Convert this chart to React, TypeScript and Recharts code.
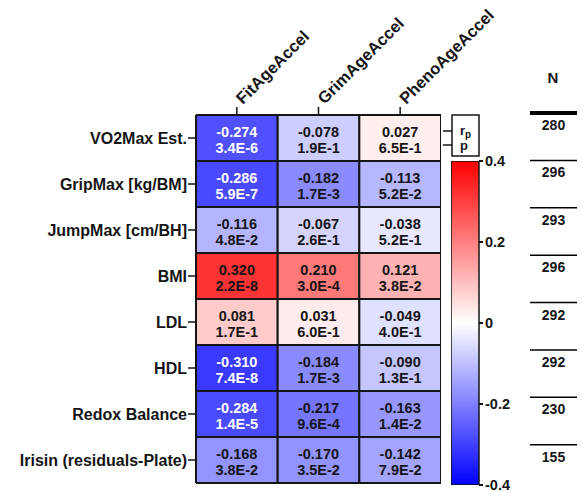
import React from 'react';
import { BarChart, Bar, XAxis, YAxis, ComposedChart } from 'recharts';

const rowNames = ['VO2Max Est.', 'GripMax [kg/BM]', 'JumpMax [cm/BH]', 'BMI', 'LDL', 'HDL', 'Redox Balance', 'Irisin (residuals-Plate)'];
const columnNames = ['FitAgeAccel', 'GrimAgeAccel', 'PhenoAgeAccel'];
const fitR = [-0.274, -0.286, -0.116, 0.32, 0.081, -0.31, -0.284, -0.168];
const fitP = ['3.4E-6', '5.9E-7', '4.8E-2', '2.2E-8', '1.7E-1', '7.4E-8', '1.4E-5', '3.8E-2'];
const grimR = [-0.078, -0.182, -0.067, 0.21, 0.031, -0.184, -0.217, -0.17];
const grimP = ['1.9E-1', '1.7E-3', '2.6E-1', '3.0E-4', '6.0E-1', '1.7E-3', '9.6E-4', '3.5E-2'];
const phenoR = [0.027, -0.113, -0.038, 0.121, -0.049, -0.09, -0.163, -0.142];
const phenoP = ['6.5E-1', '5.2E-2', '5.2E-1', '3.8E-2', '4.0E-1', '1.3E-1', '1.4E-2', '7.9E-2'];
const nValues = [280, 296, 293, 296, 292, 292, 230, 155];
const colorbarTicks = [-0.4, -0.2, 0, 0.2, 0.4];
const colorbarRange = [-0.4, 0.4];
const columnTicks = [0.5, 1.5, 2.5];

const FONT = '"Liberation Sans", Arial, sans-serif';
const DARK = '#151515';

const table = rowNames.map((name, i) => ({
  name,
  c0: 1, c1: 1, c2: 1,
  r0: fitR[i], r1: grimR[i], r2: phenoR[i],
  p0: fitP[i], p1: grimP[i], p2: phenoP[i],
}));

const nTable = nValues.map((n, i) => ({ key: String(i), n, slot: 1 }));
const cbarTable = [{ name: 'scale', range: colorbarRange }];

function colorFor(r: number) {
  const t = Math.max(-1, Math.min(1, r / 0.4));
  if (t >= 0) {
    const v = Math.round(255 * (1 - t));
    return `rgb(255,${v},${v})`;
  }
  const v = Math.round(255 * (1 + t));
  return `rgb(${v},${v},255)`;
}

const makeCellShape = (j: number) => (props: any) => {
  const { x, y, width, height, payload } = props;
  const r = payload[`r${j}`] as number;
  const p = payload[`p${j}`] as string;
  const txt = r < -0.25 ? '#ffffff' : DARK;
  const cx = x + width / 2;
  return (
    <g>
      <rect x={x} y={y} width={width} height={height} fill={colorFor(r)} stroke={DARK} strokeWidth={2} />
      <text x={cx} y={y + 22} textAnchor="middle" fontFamily={FONT} fontWeight="bold" fontSize={14.5} fill={txt}>
        {r.toFixed(3)}
      </text>
      <text x={cx} y={y + 38} textAnchor="middle" fontFamily={FONT} fontWeight="bold" fontSize={14.5} fill={txt}>
        {p}
      </text>
    </g>
  );
};

const ColumnTick = (props: any) => {
  const { x, y, payload } = props;
  const idx = Math.floor(payload.value);
  const tx = x + 6;
  const ty = y;
  return (
    <text x={tx} y={ty} textAnchor="start" fontFamily={FONT} fontWeight="bold" fontSize={16.5} fill={DARK}
      transform={`rotate(-45, ${tx}, ${ty})`}>
      {columnNames[idx]}
    </text>
  );
};

const NShape = (props: any) => {
  const { x, y, width, payload, index } = props;
  return (
    <g>
      <line x1={x} x2={x + width} y1={y} y2={y} stroke="#000" strokeWidth={index === 0 ? 4 : 1.5} />
      <text x={x + width / 2} y={y + 17} textAnchor="middle" fontFamily={FONT} fontWeight="bold" fontSize={14} fill={DARK}>
        {payload.n}
      </text>
    </g>
  );
};

const CbarShape = (props: any) => {
  const { x, y, width, height } = props;
  return <rect x={x} y={y} width={width} height={height} fill="url(#cbarGrad)" stroke={DARK} strokeWidth={1.5} />;
};

export default function App() {
  return (
    <div style={{ position: 'absolute', left: 0, top: 0, width: 582, height: 491, background: '#fff', fontFamily: FONT }}>
      <svg width={0} height={0} style={{ position: 'absolute' }}>
        <defs>
          <linearGradient id="cbarGrad" x1="0" y1="0" x2="0" y2="1">
            <stop offset="0%" stopColor="#ff0000" />
            <stop offset="50%" stopColor="#ffffff" />
            <stop offset="100%" stopColor="#0000ff" />
          </linearGradient>
        </defs>
      </svg>

      <div style={{ position: 'absolute', left: 0, top: 0 }}>
        <BarChart width={582} height={491} data={table} layout="vertical"
          margin={{ top: 0, right: 141, bottom: 8, left: 0 }} barCategoryGap={0} barGap={0}>
          <XAxis type="number" orientation="top" domain={[0, 3]} ticks={columnTicks} height={115}
            tickSize={8} tickMargin={2} interval={0} tick={<ColumnTick />}
            axisLine={{ stroke: DARK, strokeWidth: 2 }} tickLine={{ stroke: DARK, strokeWidth: 1.5 }} allowDataOverflow />
          <YAxis type="category" dataKey="name" width={196} tickSize={8} tickMargin={1} interval={0}
            axisLine={{ stroke: DARK, strokeWidth: 2 }} tickLine={{ stroke: DARK, strokeWidth: 1.5 }}
            tick={{ fontFamily: FONT, fontWeight: 'bold', fontSize: 16, fill: DARK }} />
          {columnNames.map((c, j) => (
            <Bar key={c} dataKey={`c${j}`} stackId="grid" isAnimationActive={false} shape={makeCellShape(j)} />
          ))}
        </BarChart>
      </div>

      <div style={{ position: 'absolute', left: 451, top: 151 }}>
        <ComposedChart width={80} height={344} data={cbarTable} margin={{ top: 10, right: 0, bottom: 10, left: 0 }}
          barCategoryGap={0}>
          <XAxis type="category" dataKey="name" hide />
          <YAxis type="number" orientation="right" domain={[-0.4, 0.4]} ticks={colorbarTicks} width={52}
            tickSize={4} tickMargin={2} axisLine={false} interval={0} allowDataOverflow
            tickFormatter={(v: number) => (v === 0 ? '0' : String(v))}
            tickLine={{ stroke: DARK, strokeWidth: 2 }}
            tick={{ fontFamily: FONT, fontWeight: 'bold', fontSize: 14.5, fill: DARK, textAnchor: 'start' }} />
          <Bar dataKey="range" isAnimationActive={false} shape={<CbarShape />} />
        </ComposedChart>
      </div>

      <div style={{ position: 'absolute', left: 530, top: 109 }}>
        <ComposedChart width={47} height={383} data={nTable} layout="vertical"
          margin={{ top: 4, right: 0, bottom: 0, left: 0 }} barCategoryGap={0}>
          <XAxis type="number" domain={[0, 1]} hide />
          <YAxis type="category" dataKey="key" hide />
          <Bar dataKey="slot" isAnimationActive={false} shape={<NShape />} />
        </ComposedChart>
      </div>

      <svg width={582} height={491} style={{ position: 'absolute', left: 0, top: 0, pointerEvents: 'none' }}>
        <text x={553} y={83} textAnchor="middle" fontFamily={FONT} fontWeight="bold" fontSize={15} fill={DARK}>N</text>
        <rect x={452} y={115} width={27} height={41} fill="#fff" stroke={DARK} strokeWidth={1.5} />
        <line x1={443} x2={452} y1={131} y2={131} stroke={DARK} strokeWidth={1.5} />
        <line x1={443} x2={452} y1={145} y2={145} stroke={DARK} strokeWidth={1.5} />
        <text x={460} y={135} fontFamily={FONT} fontWeight="bold" fontSize={13} fill={DARK}>
          r<tspan dy={3} fontSize={10}>p</tspan>
        </text>
        <text x={460} y={150} fontFamily={FONT} fontWeight="bold" fontSize={13} fill={DARK}>p</text>
      </svg>
    </div>
  );
}
